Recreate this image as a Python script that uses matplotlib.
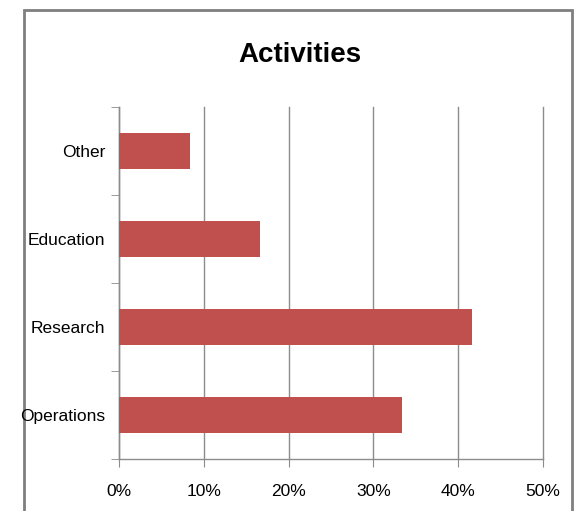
import matplotlib
matplotlib.use("Agg")
from matplotlib import pyplot
from matplotlib.patches import Rectangle
from matplotlib.ticker import FuncFormatter, FixedLocator

# data
categories = ["Operations", "Research", "Education", "Other"]
shares = [4 / 12., 5 / 12., 2 / 12., 1 / 12.]
xticks = [0.0, 0.1, 0.2, 0.3, 0.4, 0.5]

bar_color = "#C0504D"
grid_color = "#8C8C8C"
font = ["Liberation Sans Narrow", "Liberation Sans", "DejaVu Sans"]

fig = pyplot.figure(figsize=(5.78, 5.11), dpi=100)
fig.patch.set_facecolor("white")

# chart frame (Excel chart area)
W, H = 578., 511.
frame = Rectangle((24 / W, -0.05), (572 - 24) / W, 1.05 - 10 / H,
                  transform=fig.transFigure, facecolor="white",
                  edgecolor="#7F7F7F", linewidth=2.0, zorder=-10)
fig.patches.append(frame)

ax = fig.add_axes([119 / W, 1 - 459 / H, (543 - 119) / W, (459 - 107) / H])
ax.patch.set_alpha(0)

ypos = range(len(categories))
ax.barh(ypos, shares, height=0.4, color=bar_color, zorder=3)

ax.set_xlim(0, 0.5)
ax.set_ylim(-0.5, len(categories) - 0.5)

ax.set_xticks(xticks)
ax.xaxis.set_major_formatter(FuncFormatter(lambda v, p: "{:.0f}%".format(v * 100)))
ax.xaxis.grid(True, color=grid_color, linewidth=1.0, zorder=0)
ax.set_axisbelow(True)
for gl in ax.xaxis.get_gridlines():
    gl.set_clip_on(False)

ax.set_yticks(list(ypos))
ax.set_yticklabels(categories)
ax.yaxis.set_minor_locator(FixedLocator([i - 0.5 for i in range(len(categories) + 1)]))
ax.tick_params(axis="y", which="major", length=0, pad=10)
ax.tick_params(axis="y", which="minor", length=6, color=grid_color, direction="out")
ax.tick_params(axis="x", length=6, color=grid_color, direction="out", pad=12)

for lab in ax.get_xticklabels() + ax.get_yticklabels():
    lab.set_family(font)
    lab.set_fontsize(12.5)

for side in ["top", "right"]:
    ax.spines[side].set_visible(False)
for side in ["left", "bottom"]:
    ax.spines[side].set_color(grid_color)
    ax.spines[side].set_linewidth(1.0)

fig.text(0.518, 1 - 55 / H, "Activities", ha="center", va="center",
         family=font, fontsize=20, fontweight="bold")

fig.savefig("out.png", dpi=100)
